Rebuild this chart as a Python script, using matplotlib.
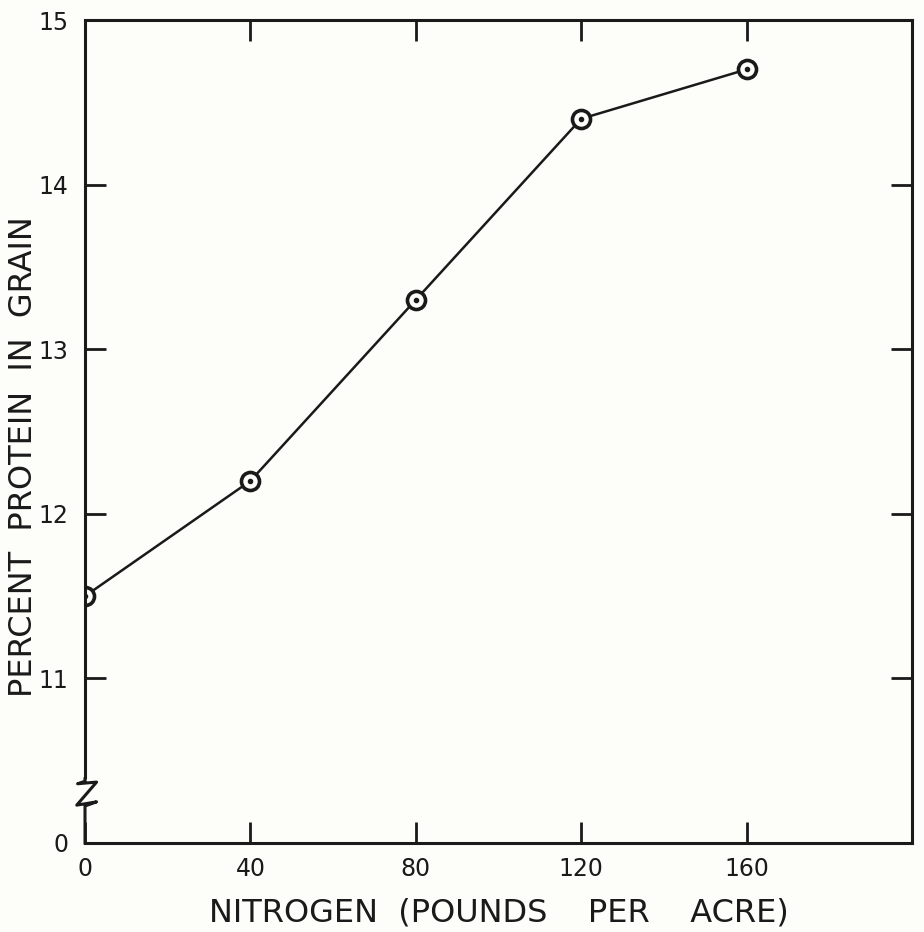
import matplotlib
matplotlib.use("Agg")
import matplotlib.pyplot as plt

# nitrogen rate vs protein content
nitrogen = [0, 40, 80, 120, 160]
protein = [11.5, 12.2, 13.3, 14.4, 14.7]

x_ticks = [0, 40, 80, 120, 160]
y_ticks = [10, 11, 12, 13, 14, 15]
y_tick_labels = ["0", "11", "12", "13", "14", "15"]

bg = "#fdfdf9"
fig = plt.figure(figsize=(9.24, 9.32), dpi=100, facecolor=bg)
ax = fig.add_axes([0.092, 0.0955, 0.895, 0.883], facecolor=bg)

ax.plot(nitrogen, protein, color="#1a1a1a", lw=1.8, zorder=2)
# circled-dot markers
ax.plot(nitrogen, protein, ls="none", marker="o", ms=13, mfc=bg,
        mec="#1a1a1a", mew=2.6, zorder=3)
ax.plot(nitrogen, protein, ls="none", marker="o", ms=3, color="#1a1a1a", zorder=4)

ax.set_xlim(0, 200)
ax.set_ylim(10, 15)
ax.set_xticks(x_ticks)
ax.set_yticks(y_ticks)
ax.set_yticklabels(y_tick_labels)

ax.tick_params(direction="in", length=15, width=2, top=True, right=True,
               labelsize=17, colors="#1a1a1a", pad=10)
ax.tick_params(axis="y", pad=12)

for name, sp in ax.spines.items():
    sp.set_linewidth(2.2)
    sp.set_color("#1a1a1a")
ax.spines["left"].set_visible(False)

# left spine drawn by hand with a break mark near the bottom
tr = ax.get_yaxis_transform()
k = dict(color="#1a1a1a", lw=2.2, transform=tr, clip_on=False, zorder=5)
ax.plot([0, 0], [15, 10.39], solid_capstyle="butt", **k)
ax.plot([0, 0, -0.009, 0.014, -0.01, 0.014, 0, 0],
        [10.39, 10.375, 10.36, 10.37, 10.23, 10.25, 10.225, 10], **k)

ax.set_xlabel("NITROGEN  (POUNDS    PER    ACRE)", fontsize=23, labelpad=12,
              color="#1a1a1a")
ax.set_ylabel("PERCENT  PROTEIN  IN  GRAIN", fontsize=23, color="#1a1a1a")
ax.yaxis.set_label_coords(-0.056, 0.47)

fig.savefig("out.png", dpi=100, facecolor=bg)
